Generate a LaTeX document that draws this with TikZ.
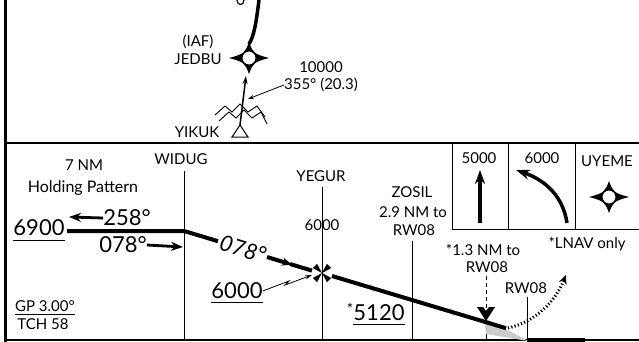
\documentclass[tikz,border=0pt]{standalone}
\usepackage{fontspec}
\setmainfont{Lato}
\usetikzlibrary{arrows.meta}
\tikzset{
  lab/.style={font=\fontsize{15}{16}\selectfont, inner sep=0pt},
  alt/.style={font=\fontsize{22}{24}\selectfont, inner sep=0pt},
  course/.style={line width=4pt},
  tick/.style={line width=0.8pt},
  bigarrow/.style={line width=2.8pt, -{Stealth[length=12pt, width=9pt]}},
  waypt/.pic={
    \fill (20,0) .. controls (5,-4) and (4,-5) .. (0,-16) .. controls (-4,-5) and (-5,-4) .. (-20,0)
      .. controls (-5,4) and (-4,5) .. (0,16) .. controls (4,5) and (5,4) .. cycle;
    \draw[fill=white, line width=1pt] (0,0) circle (7pt);
  },
  stepfix/.pic={
    \foreach \a in {45,135,225,315}
      \fill[rotate=\a] (0,0) -- (10,-3) -- (10,3) -- cycle;
  },
}
\begin{document}
\begin{tikzpicture}[x=1pt, y=-1pt]
\useasboundingbox (0,0) rectangle (639,342);
% frame
\draw[line width=3pt] (5,0) -- (5,342);
\draw[line width=2pt] (5,143) -- (639,143);
\draw[line width=1.2pt] (5,340) -- (639,340);
\draw[line width=4pt] (527,340) -- (585,340);

% feeder to JEDBU
\draw[line width=1.2pt] (237,0) .. controls (237,6) and (244,6) .. (244,0);
\draw[line width=3.5pt] (259,0) .. controls (256,24) and (254,36) .. (249,44);
\pic at (249,58) {waypt};
\node[lab] (iaf) at (198,42) {(IAF)};
\node[lab] (jedbu) at (198,59) {JEDBU};
\draw[line width=1pt] (232,137) -- (240,125) -- (248,137) -- cycle;
\node[lab] (yikuk) at (197,132) {YIKUK};
\draw[line width=0.9pt] (215,115) -- (225,106) -- (232,112) -- (240,104) -- (248,112) -- (257,106) -- (265,117);
\draw[line width=0.9pt] (219,121) -- (229,112) -- (236,118) -- (244,110) -- (252,118) -- (261,112) -- (267,124);
\draw[line width=1.5pt, -{Stealth[length=8pt,width=5pt]}] (240,125) -- (246,76);
\node[lab] (alt10) at (321,67) {10000};
\node[lab] (crs355) at (321,85) {355° (20.3)};
\draw[tick, -{Stealth[length=6pt,width=4pt]}] (crs355.west) -- (248,99);

% profile box
\draw[line width=1pt] (452,143) -- (452,229) -- (639,229);
\draw[line width=1pt] (508,143) -- (508,229);
\draw[line width=1pt] (575,143) -- (575,229);
\node[lab] (ma5) at (479,158) {5000};
\node[lab] (ma6) at (542,158) {6000};
\node[lab] (uyeme) at (607,161) {UYEME};
\draw[line width=3.5pt, -{Stealth[length=14pt,width=10pt]}] (480,223) -- (480,170);
\draw[line width=3.5pt, -{Stealth[length=14pt,width=10pt]}] (567,223) .. controls (563,196) and (545,180) .. (516,170);
\pic at (609,197) {waypt};
\node[lab] (lnav) at (587,244) {*LNAV only};

% holding
\node[lab] (hold7) at (84,165) {7 NM};
\node[lab, font=\fontsize{16}{17}\selectfont] (hold) at (83,188) {Holding Pattern};
\node[alt] (a6900) at (39,228) {6900};
\draw[tick] ([yshift=-4pt]a6900.south west) -- ([yshift=-4pt]a6900.south east);
\node[alt] (c258) at (127,218) {258°};
\draw[bigarrow] (c258.west) -- (69,217);
\node[alt] (c078) at (123,245) {078°};
\draw[bigarrow] (c078.east) -- (183,247);

% fixes
\node[lab] (widug) at (181,159) {WIDUG};
\draw[tick] (184,171) -- (184,340);
\node[lab] (yegur) at (321,176) {YEGUR};
\draw[tick] (322,187) -- (322,340);
\node[lab] (yeg6) at (322,225) {6000};
\node[lab] (zosil) at (412,192) {ZOSIL};
\node[lab] (zosnm) at (413,212) {2.9 NM to};
\node[lab] (zosrw) at (414,230) {RW08};
\draw[tick] (412,241) -- (412,340);
\node[lab] (vdp) at (483,250) {*1.3 NM to};
\node[lab] (vdprw) at (487,267) {RW08};
\draw[tick, dash pattern=on 4pt off 3pt] (486,276) -- (486,308);
\draw[tick] (486,320) -- (486,340);
\node[lab] (thr) at (526,288) {RW08};
\draw[tick] (527,297) -- (527,340);

% final course
\fill[gray!40] (484,318) -- (506,329) -- (528,341) -- (486,334) -- cycle;
\draw[course] (67,231) -- (184,231) -- (218,241.2);
\node[alt, rotate=-16.7] (c078b) at (243,249) {\itshape 078°};
\draw[course, -{Stealth[length=10pt,width=8pt]}] (267,257) -- (292,264.6);
\draw[course] (290,264) -- (312,270.6);
\pic at (322,273) {stepfix};
\draw[course] (332,276) -- (506,328.2);
\fill (477,307) -- (483,307) -- (486,311) -- (489,307) -- (495,307) -- (486,321) -- cycle;
\draw[line width=3pt, dash pattern=on 1.2pt off 2.2pt, -{Stealth[length=9pt,width=8pt]}] (508,328) .. controls (535,322) and (555,302) .. (566,275);
\node[alt] (a6000) at (237,291) {6000};
\draw[tick] ([yshift=-3.5pt]a6000.south west) -- ([yshift=-3.5pt]a6000.south east);
\draw[tick, -{Stealth[length=7pt,width=4pt]}] (a6000.east) -- (289,281) -- (285,285) -- (312,275);
\node[lab] (ast) at (350,309) {*};
\node[alt] (a5120) at (379,313) {5120};
\draw[tick] ([yshift=-3pt]a5120.south west) -- ([yshift=-3pt]a5120.south east);
\node[lab] (gp) at (45,306) {GP 3.00°};
\draw[tick] (15,314.5) -- (75,314.5);
\node[lab] (tch) at (43,324) {TCH 58};
\end{tikzpicture}
\end{document}
